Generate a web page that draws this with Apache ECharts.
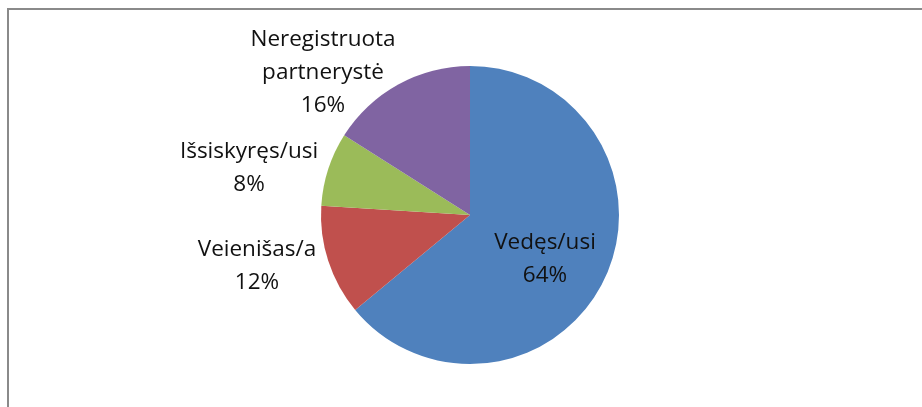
<!DOCTYPE html>
<html>
<head>
<meta charset="utf-8">
<script src="https://cdn.jsdelivr.net/npm/echarts@6/dist/echarts.min.js"></script>
<style>
  html, body { margin: 0; padding: 0; background: #fff; }
  #chart { width: 922px; height: 407px; }
</style>
</head>
<body>
<div id="chart"></div>
<script>
// duomenys
var categories = ['Vedęs/usi', 'Veienišas/a', 'Išsiskyręs/usi', 'Neregistruota\npartnerystė'];
var values = [64, 12, 8, 16];
var colors = ['#4F81BD', '#C0504D', '#9BBB59', '#8064A2'];

// label anchor points (layout only)
var labelPos = [[545, 259], [257, 266], [249, 168], [323, 73]];

var chart = echarts.init(document.getElementById('chart'));

var option = {
  animation: false,
  graphic: [{
    type: 'rect',
    shape: { x: 8, y: 9, width: 1000, height: 500 },
    style: { fill: 'none', stroke: '#8a8a8a', lineWidth: 2 }
  }],
  series: [{
    type: 'pie',
    center: [470, 215],
    radius: 149,
    startAngle: 90,
    clockwise: true,
    avoidLabelOverlap: false,
    labelLine: { show: false },
    label: {
      show: true,
      formatter: function (p) { return p.name + '\n' + p.value + '%'; },
      color: '#111',
      fontFamily: 'Open Sans',
      fontSize: 22.5,
      lineHeight: 33,
      align: 'center'
    },
    labelLayout: function (p) {
      var pos = labelPos[p.dataIndex];
      return { x: pos[0], y: pos[1], align: 'center', verticalAlign: 'middle' };
    },
    data: categories.map(function (c, i) {
      return { name: c, value: values[i], itemStyle: { color: colors[i] } };
    })
  }]
};

chart.setOption(option);
</script>
</body>
</html>
